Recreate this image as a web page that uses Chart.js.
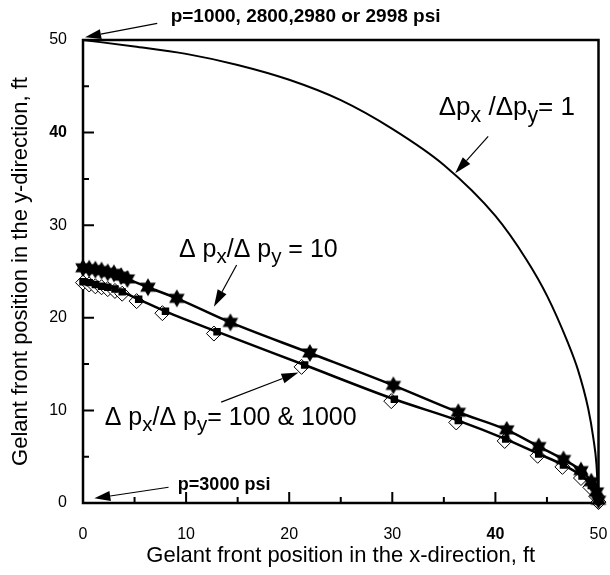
<!DOCTYPE html>
<html>
<head>
<meta charset="utf-8">
<script src="https://cdn.jsdelivr.net/npm/chart.js@4.4.1/dist/chart.umd.min.js"></script>
<style>
  html, body { margin: 0; padding: 0; background: #fff; }
  #wrap { width: 610px; height: 575px; }
</style>
</head>
<body>
<div id="wrap"><canvas id="c" width="610" height="575"></canvas></div>
<script>
// ─── data (x, y in ft) ───────────────────────────────────────────────────────

// Δpx/Δpy = 1 : plain curve, no markers
const ratio1X = [0, 5, 10, 15, 20, 25, 30, 35, 40, 43, 45, 47, 48, 49, 49.5, 49.8, 50];
const ratio1Y = [50, 49.3, 48.5, 47.3, 45.7, 43.5, 40.4, 36.5, 31.0, 26.3, 22.4, 17.4, 14.4, 10.2, 7.0, 4.2, 0];

// Δpx/Δpy = 10 : filled stars
const ratio10X = [0, 0.6, 1.2, 1.8, 2.4, 3.0, 3.7, 4.3, 6.3, 9.1, 14.3, 22.0, 30.1, 36.4, 41.1, 44.2, 46.6, 48.3, 49.3, 49.8, 50];
const ratio10Y = [25.4, 25.3, 25.2, 25.1, 24.9, 24.8, 24.5, 24.2, 23.3, 22.1, 19.5, 16.2, 12.7, 9.8, 7.9, 6.1, 4.7, 3.5, 2.3, 1.2, 0.3];

// Δpx/Δpy = 100 : open diamonds
const ratio100X = [0, 0.6, 1.2, 1.8, 2.4, 3.1, 3.8, 5.2, 7.7, 12.7, 21.2, 29.9, 36.2, 40.9, 44.1, 46.5, 48.3, 49.2, 49.8, 50];
const ratio100Y = [23.8, 23.6, 23.4, 23.3, 23.1, 22.9, 22.6, 21.8, 20.5, 18.3, 14.7, 11.0, 8.7, 6.7, 5.1, 3.9, 2.7, 1.7, 0.7, 0.1];

// Δpx/Δpy = 1000 : small filled squares (line drawn through these)
const ratio1000X = [0, 0.6, 1.2, 1.8, 2.4, 3.1, 3.8, 5.4, 8.0, 13.0, 21.5, 30.2, 36.4, 41.0, 44.2, 46.6, 48.4, 49.3, 49.8, 50];
const ratio1000Y = [23.9, 23.8, 23.6, 23.4, 23.3, 23.1, 22.8, 22.0, 20.7, 18.5, 14.9, 11.2, 8.9, 6.9, 5.3, 4.1, 2.9, 1.9, 0.9, 0.2];

const majorTicks = [0, 10, 20, 30, 40, 50];
const minorTicks = [5, 15, 25, 35, 45];
const boldTick = 40;

const FONT = "'Liberation Sans', Arial, sans-serif";

// ─── annotations (data coordinates) ──────────────────────────────────────────
const ratioNotes = [
  { parts: [['Δp', 0], ['x', 1], [' /Δp', 0], ['y', 1], ['= 1', 0]], at: [34.5, 41.9], size: 26 },
  { parts: [['Δ p', 0], ['x', 1], ['/Δ p', 0], ['y', 1], [' = 10', 0]], at: [9.3, 26.6], size: 25 },
  { parts: [['Δ p', 0], ['x', 1], ['/Δ p', 0], ['y', 1], ['= 100 & 1000', 0]], at: [2.1, 8.4], size: 25 },
];
const boldNotes = [
  { text: 'p=1000, 2800,2980 or 2998 psi', at: [8.5, 52.5], size: 19 },
  { text: 'p=3000 psi', at: [9.2, 1.9], size: 18 },
];
const arrows = [
  { from: [39.3, 39.6], to: [36.1, 35.6], head: 17, half: 5 },
  { from: [14.9, 25.7], to: [12.7, 21.2], head: 17, half: 5 },
  { from: [13.4, 10.9], to: [20.9, 14.1], head: 17, half: 5 },
  { from: [8.3, 1.7], to: [1.1, 0.5], head: 16, half: 5 },
  { from: [7.2, 51.8], to: [0.2, 50.3], head: 16, half: 5 },
];

function pts(xs, ys) {
  return xs.map((x, i) => ({ x, y: ys[i] }));
}

function makeStar(r) {
  const c = document.createElement('canvas');
  const s = Math.ceil(r * 2 + 2);
  c.width = s; c.height = s;
  const g = c.getContext('2d');
  g.fillStyle = '#000';
  g.beginPath();
  for (let i = 0; i < 12; i++) {
    const a = -Math.PI / 2 + i * Math.PI / 6;
    const rr = i % 2 === 0 ? r : r * 0.58;
    const px = s / 2 + Math.cos(a) * rr, py = s / 2 + Math.sin(a) * rr;
    i ? g.lineTo(px, py) : g.moveTo(px, py);
  }
  g.closePath();
  g.fill();
  return c;
}

function drawArrow(ctx, x1, y1, x2, y2, head, half) {
  const a = Math.atan2(y2 - y1, x2 - x1);
  const bx = x2 - Math.cos(a) * head, by = y2 - Math.sin(a) * head;
  ctx.beginPath();
  ctx.moveTo(x1, y1);
  ctx.lineTo(bx, by);
  ctx.stroke();
  ctx.beginPath();
  ctx.moveTo(x2, y2);
  ctx.lineTo(bx + Math.sin(a) * half, by - Math.cos(a) * half);
  ctx.lineTo(bx - Math.sin(a) * half, by + Math.cos(a) * half);
  ctx.closePath();
  ctx.fill();
}

const decor = {
  id: 'decor',
  beforeDatasetsDraw(chart) {
    const { ctx, chartArea: a, scales: { x, y } } = chart;
    ctx.save();
    ctx.strokeStyle = '#000';
    ctx.lineWidth = 2;
    ctx.beginPath();
    majorTicks.forEach(v => {
      const px = x.getPixelForValue(v), py = y.getPixelForValue(v);
      ctx.moveTo(px, a.bottom); ctx.lineTo(px, a.bottom - 11);
      ctx.moveTo(a.left, py); ctx.lineTo(a.left + 11, py);
    });
    minorTicks.forEach(v => {
      const px = x.getPixelForValue(v), py = y.getPixelForValue(v);
      ctx.moveTo(px, a.bottom); ctx.lineTo(px, a.bottom - 6);
      ctx.moveTo(a.left, py); ctx.lineTo(a.left + 6, py);
    });
    ctx.stroke();
    ctx.lineWidth = 2.5;
    ctx.strokeRect(a.left, a.top, a.right - a.left, a.bottom - a.top);
    ctx.restore();
  },
  afterDraw(chart) {
    const { ctx, scales: { x, y } } = chart;
    ctx.save();
    ctx.fillStyle = '#000';
    ctx.strokeStyle = '#000';
    ctx.textBaseline = 'alphabetic';
    ratioNotes.forEach(n => {
      let px = x.getPixelForValue(n.at[0]);
      const py = y.getPixelForValue(n.at[1]);
      n.parts.forEach(([t, sub]) => {
        const fs = sub ? n.size * 0.82 : n.size;
        ctx.font = `${fs}px ${FONT}`;
        ctx.fillText(t, px, py + (sub ? n.size * 0.25 : 0));
        px += ctx.measureText(t).width;
      });
    });
    boldNotes.forEach(n => {
      ctx.font = `bold ${n.size}px ${FONT}`;
      ctx.textBaseline = 'middle';
      ctx.fillText(n.text, x.getPixelForValue(n.at[0]), y.getPixelForValue(n.at[1]));
    });
    ctx.lineWidth = 1.2;
    arrows.forEach(ar => {
      drawArrow(ctx,
        x.getPixelForValue(ar.from[0]), y.getPixelForValue(ar.from[1]),
        x.getPixelForValue(ar.to[0]), y.getPixelForValue(ar.to[1]),
        ar.head, ar.half);
    });
    ctx.restore();
  },
};

const tickFont = c => ({
  family: FONT,
  size: 16,
  weight: c.tick && c.tick.value === boldTick ? 'bold' : 'normal',
});

new Chart(document.getElementById('c'), {
  type: 'scatter',
  data: {
    datasets: [
      {
        label: 'Δpx/Δpy = 1', data: pts(ratio1X, ratio1Y),
        showLine: true, borderColor: '#000', borderWidth: 2, pointRadius: 0,
        cubicInterpolationMode: 'monotone', order: 4,
      },
      {
        label: 'Δpx/Δpy = 100', data: pts(ratio100X, ratio100Y),
        showLine: false, pointStyle: 'rectRot', pointRadius: 7.5,
        pointBackgroundColor: '#fff', pointBorderColor: '#000', pointBorderWidth: 1, order: 3,
      },
      {
        label: 'Δpx/Δpy = 1000', data: pts(ratio1000X, ratio1000Y),
        showLine: true, borderColor: '#000', borderWidth: 2.5,
        pointStyle: 'rect', pointRadius: 3.5, pointBackgroundColor: '#000', pointBorderColor: '#000',
        cubicInterpolationMode: 'monotone', order: 2,
      },
      {
        label: 'Δpx/Δpy = 10', data: pts(ratio10X, ratio10Y),
        showLine: true, borderColor: '#000', borderWidth: 2.5,
        pointStyle: makeStar(9), pointRadius: 9,
        cubicInterpolationMode: 'monotone', order: 1,
      },
    ],
  },
  options: {
    responsive: false,
    animation: false,
    clip: false,
    layout: { padding: { top: 40, right: 7, left: 0, bottom: 0 } },
    plugins: { legend: { display: false }, tooltip: { enabled: false } },
    scales: {
      x: {
        type: 'linear', min: 0, max: 50,
        grid: { display: false }, border: { display: false },
        ticks: { stepSize: 10, color: '#000', padding: 14, font: tickFont, maxRotation: 0, autoSkip: false },
        title: {
          display: true, text: 'Gelant front position in the x-direction, ft',
          color: '#000', font: { family: FONT, size: 22 }, padding: { top: 0, bottom: 6 },
        },
        afterFit(s) { s.height = 72; s.paddingLeft = 0; s.paddingRight = 0; },
      },
      y: {
        type: 'linear', min: 0, max: 50,
        grid: { display: false }, border: { display: false },
        ticks: { stepSize: 10, color: '#000', padding: 8, font: tickFont },
        title: {
          display: true, text: 'Gelant front position in the y-direction, ft',
          color: '#000', font: { family: FONT, size: 22 }, padding: { top: 8, bottom: 0 },
        },
        afterFit(s) { s.width = 83; s.paddingTop = 0; s.paddingBottom = 0; },
      },
    },
  },
  plugins: [decor],
});
</script>
</body>
</html>
